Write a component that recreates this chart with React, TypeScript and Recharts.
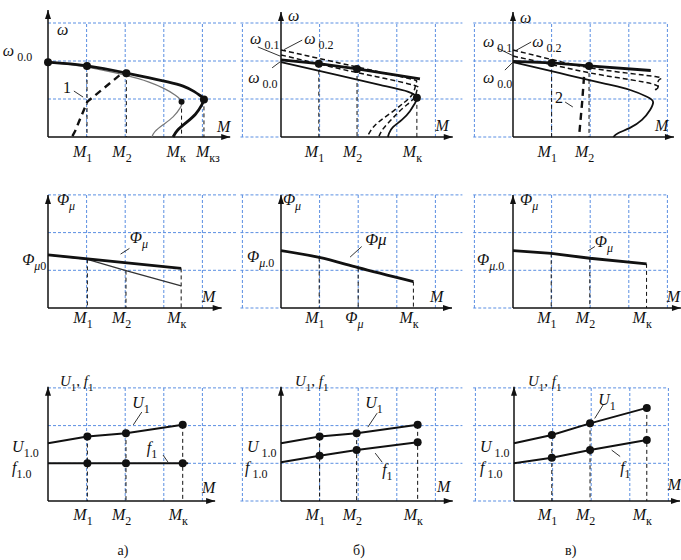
import React from "react";
import { LineChart, Line, XAxis, YAxis, ReferenceLine, ReferenceDot } from "recharts";

type P = number[];
type Part = [string, string];

const W = 681;
const H = 560;
const UX = 38.6;
const FONT = "\"Liberation Serif\", \"Times New Roman\", serif";
const GRID = "#5b8fe2";
const INK = "#111";

// ---- row 1: ω(M)
const a1Op: P[] = [[0, 1.97], [1.01, 1.87], [2.03, 1.68], [2.6, 1.56], [3.1, 1.45], [3.5, 1.34], [3.78, 1.2], [3.97, 1.07], [4.04, 0.99], [3.98, 0.84], [3.82, 0.6], [3.57, 0.37], [3.35, 0.17], [3.24, 0]];
const a1Nat: P[] = [[0, 1.97], [1.01, 1.84], [2.03, 1.62], [2.6, 1.45], [3.0, 1.28], [3.3, 1.1], [3.46, 0.93], [3.42, 0.76], [3.24, 0.53], [2.98, 0.32], [2.77, 0.14], [2.69, 0]];
const a1Line1: P[] = [[1.85, 1.62], [1.02, 0.93], [0.85, 0.52], [0.7, 0.15], [0.62, 0]];
const a1Dots: P[] = [[0, 1.97], [1.01, 1.87], [2.03, 1.68], [4.04, 0.99]];
const a1Kdot: P[] = [[3.46, 0.93]];

const a2Op: P[] = [[0, 2.03], [0.98, 1.93], [1.97, 1.79], [3.6, 1.53]];
const a2W02: P[] = [[0, 2.29], [1.5, 1.95], [2.6, 1.7], [3.4, 1.52], [3.5, 1.42], [3.42, 1.15], [3.18, 0.9], [2.84, 0.63], [2.5, 0.37], [2.32, 0.16], [2.23, 0]];
const a2W01: P[] = [[0, 2.16], [1.5, 1.8], [2.6, 1.56], [3.45, 1.36], [3.53, 1.25], [3.45, 1.03], [3.18, 0.78], [2.9, 0.5], [2.65, 0.22], [2.53, 0]];
const a2Nat: P[] = [[0, 1.97], [1.5, 1.62], [2.56, 1.37], [3.3, 1.19], [3.52, 1.03], [3.47, 0.89], [3.34, 0.68], [3.13, 0.45], [2.9, 0.26], [2.8, 0.1], [2.77, 0]];
const a2Dots: P[] = [[0.98, 1.93], [1.97, 1.79], [3.52, 1.03]];

const a3Op: P[] = [[0, 1.99], [1, 1.95], [1.97, 1.87], [3.57, 1.75]];
const a3W02: P[] = [[0, 2.29], [1.2, 1.99], [2.3, 1.77], [3.68, 1.59], [3.78, 1.5], [3.76, 1.32], [3.68, 1.24]];
const a3W01: P[] = [[0, 2.13], [1.2, 1.86], [2.3, 1.63], [3.6, 1.4], [3.68, 1.24]];
const a3Nat: P[] = [[0, 1.97], [1.22, 1.68], [2.4, 1.4], [3.0, 1.25], [3.47, 1.06], [3.63, 0.92], [3.55, 0.71], [3.34, 0.45], [3.03, 0.24], [2.72, 0.1], [2.6, 0]];
const a3Line2: P[] = [[1.84, 1.58], [1.79, 0.9], [1.71, 0]];
const a3Dots: P[] = [[1, 1.95], [1.97, 1.87]];

// ---- row 2: Φμ(M)
const b1Thick: P[] = [[0, 1.41], [3.45, 1.05]];
const b1Thin: P[] = [[0, 1.41], [1.02, 1.29], [2.02, 0.99], [3.45, 0.59]];
const b1Drops: P[] = [[1.02, 1.29], [2.02, 0.99], [3.45, 1.05]];
const b2Curve: P[] = [[0, 1.52], [0.99, 1.34], [2.0, 1.07], [3.43, 0.7]];
const b3Curve: P[] = [[0, 1.52], [0.99, 1.45], [1.99, 1.32], [3.46, 1.17]];

// ---- row 3: U1, f1 (M)
const c1U: P[] = [[0, 1.53], [1.02, 1.71], [2.02, 1.8], [3.49, 2.02]];
const c1F: P[] = [[0, 1.0], [1.02, 1.0], [2.02, 1.0], [3.63, 1.0]];
const c1Fdots: P[] = [[1.02, 1.0], [2.02, 1.0], [3.49, 1.0]];
const c2U: P[] = [[0, 1.53], [1.0, 1.71], [1.96, 1.8], [3.54, 2.02]];
const c2F: P[] = [[0, 1.03], [1.0, 1.2], [1.96, 1.35], [3.54, 1.56]];
const c3U: P[] = [[0, 1.53], [0.98, 1.75], [1.97, 2.06], [3.44, 2.47]];
const c3F: P[] = [[0, 1.0], [0.98, 1.15], [1.97, 1.35], [3.44, 1.62]];

const m = (s: string): Part[] => [["M", "i"], [s, "s"]];
const om = (s: string): Part[] => [["ω", "i"], [" " + s, "s"]];
const phi = (s: string): Part[] => [["Φ", "i"], ["μ", "si"], [s, "s"]];
const uf: Part[] = [["U", "i"], ["1", "s"], [", ", "r"], ["f", "i"], ["1", "s"]];

type Curve = { pts: P[]; w: number; color?: string; dash?: string; kind?: string };
type Note = { at: P; parts: Part[]; size?: number; anchor?: string };
type Tick = { x: number; parts: Part[]; dx?: number };
type Panel = {
  ax: number; y0: number; uy: number; xMax: number;
  gridX: number[]; gridL: number; gridR: number;
  top: number; right: number;
  curves: Curve[]; dots: P[]; small?: P[]; drops: P[]; leaders: number[][];
  notes: Note[]; ticks: Tick[]; tickDy: number;
};

const col1Grid = [1, 2, 3, 4];
const colGrid = [-1, 1, 2, 3, 4];

const panels: Panel[] = [
  {
    ax: 48, y0: 137, uy: 38, xMax: 4.9, gridX: col1Grid, gridL: 0, gridR: 4.9, top: 3.34, right: 4.72,
    curves: [
      { pts: a1Nat, w: 1.2, color: "#777" },
      { pts: a1Op, w: 2.8 },
      { pts: a1Line1, w: 2.4, dash: "7 5", kind: "linear" },
    ],
    dots: a1Dots, small: a1Kdot,
    drops: [a1Dots[1], a1Dots[2], a1Kdot[0], a1Dots[3]],
    leaders: [[0.67, 1.21, 0.91, 1.05]],
    notes: [
      { at: [0.23, 2.68], parts: [["ω", "i"]] },
      { at: [-1.17, 2.12], parts: om("0.0") },
      { at: [0.39, 1.16], parts: [["1", "r"]] },
      { at: [4.38, 0.13], parts: [["M", "i"]] },
    ],
    ticks: [
      { x: a1Dots[1][0], parts: m("1") },
      { x: a1Dots[2][0], parts: m("2") },
      { x: a1Kdot[0][0], parts: m("к"), dx: -15 },
      { x: a1Dots[3][0], parts: m("кз"), dx: -8 },
    ],
    tickDy: 20,
  },
  {
    ax: 281, y0: 137, uy: 38, xMax: 4.9, gridX: colGrid, gridL: -1.05, gridR: 4.7, top: 3.29, right: 4.45,
    curves: [
      { pts: a2W02, w: 1.5, dash: "5 3" },
      { pts: a2W01, w: 1.5, dash: "5 3" },
      { pts: a2Nat, w: 1.8 },
      { pts: a2Op, w: 2.8, kind: "linear" },
    ],
    dots: a2Dots, drops: a2Dots,
    leaders: [[-0.6, 2.37, 0, 2.12], [0.55, 2.55, 0.08, 2.3], [-0.23, 1.82, -0.02, 1.98]],
    notes: [
      { at: [0.18, 3.05], parts: [["ω", "i"]] },
      { at: [-0.8, 2.45], parts: om("0.1") },
      { at: [0.6, 2.45], parts: om("0.2") },
      { at: [-0.85, 1.42], parts: om("0.0") },
      { at: [4.0, 0.16], parts: [["M", "i"]] },
    ],
    ticks: [
      { x: a2Dots[0][0], parts: m("1") },
      { x: a2Dots[1][0], parts: m("2") },
      { x: a2Dots[2][0], parts: m("к") },
    ],
    tickDy: 20,
  },
  {
    ax: 513, y0: 137, uy: 38, xMax: 4.3, gridX: colGrid, gridL: -1.03, gridR: 4.0, top: 3.29, right: 4.17,
    curves: [
      { pts: a3W02, w: 1.5, dash: "5 3" },
      { pts: a3W01, w: 1.5, dash: "5 3" },
      { pts: a3Nat, w: 1.8 },
      { pts: a3Op, w: 2.8, kind: "linear" },
      { pts: a3Line2, w: 2.4, dash: "7 5", kind: "linear" },
    ],
    dots: a3Dots, drops: a3Dots,
    leaders: [[-0.41, 2.34, 0, 2.14], [0.47, 2.5, 0.08, 2.28], [-0.21, 1.76, 0, 1.97], [1.35, 0.92, 1.55, 0.79]],
    notes: [
      { at: [0.18, 3.0], parts: [["ω", "i"]] },
      { at: [-0.78, 2.37], parts: om("0.1") },
      { at: [0.5, 2.37], parts: om("0.2") },
      { at: [-0.78, 1.42], parts: om("0.0") },
      { at: [1.09, 0.89], parts: [["2", "r"]] },
      { at: [3.68, 0.16], parts: [["M", "i"]] },
    ],
    ticks: [
      { x: a3Dots[0][0], parts: m("1") },
      { x: a3Dots[1][0], parts: m("2") },
    ],
    tickDy: 20,
  },
  {
    ax: 48, y0: 308, uy: 37.7, xMax: 4.9, gridX: col1Grid, gridL: 0, gridR: 4.9, top: 3.0, right: 4.5,
    curves: [
      { pts: b1Thin, w: 1.3, color: "#333", kind: "linear" },
      { pts: b1Thick, w: 2.8, kind: "linear" },
    ],
    dots: [], drops: b1Drops,
    leaders: [[1.88, 1.43, 2.11, 1.58]],
    notes: [
      { at: [0.23, 2.73], parts: [["Φ", "i"], ["μ", "si"]] },
      { at: [-0.67, 1.14], parts: phi("0") },
      { at: [2.12, 1.72], parts: [["Φ", "i"], ["μ", "si"]] },
      { at: [3.99, 0.16], parts: [["M", "i"]] },
    ],
    ticks: [
      { x: b1Drops[0][0], parts: m("1") },
      { x: b1Drops[1][0], parts: m("2") },
      { x: b1Drops[2][0], parts: m("к") },
    ],
    tickDy: 15,
  },
  {
    ax: 281, y0: 308, uy: 37.7, xMax: 4.9, gridX: colGrid, gridL: -1.05, gridR: 4.7, top: 3.0, right: 4.43,
    curves: [{ pts: b2Curve, w: 2.8 }],
    dots: [], drops: b2Curve.slice(1),
    leaders: [[1.79, 1.35, 2.09, 1.63]],
    notes: [
      { at: [0.05, 2.73], parts: [["Φ", "i"], ["μ", "si"]] },
      { at: [-0.88, 1.22], parts: phi(".0") },
      { at: [2.18, 1.67], parts: [["Φμ", "i"]], size: 17 },
      { at: [3.86, 0.16], parts: [["M", "i"]] },
    ],
    ticks: [
      { x: b2Curve[1][0], parts: m("1") },
      { x: b2Curve[2][0], parts: [["Φ", "i"], ["μ", "si"]], dx: -13 },
      { x: b2Curve[3][0], parts: m("к") },
    ],
    tickDy: 15,
  },
  {
    ax: 513, y0: 308, uy: 37.7, xMax: 4.3, gridX: colGrid, gridL: -1.03, gridR: 4.0, top: 3.0, right: 4.35,
    curves: [{ pts: b3Curve, w: 2.8, kind: "linear" }],
    dots: [], drops: b3Curve.slice(1),
    leaders: [[1.95, 1.52, 2.12, 1.63]],
    notes: [
      { at: [0.18, 2.73], parts: [["Φ", "i"], ["μ", "si"]] },
      { at: [-0.93, 1.14], parts: phi(".0") },
      { at: [2.12, 1.62], parts: [["Φ", "i"], ["μ", "si"]] },
      { at: [3.98, 0.16], parts: [["M", "i"]] },
    ],
    ticks: [
      { x: b3Curve[1][0], parts: m("1") },
      { x: b3Curve[2][0], parts: m("2") },
      { x: b3Curve[3][0], parts: m("к") },
    ],
    tickDy: 15,
  },
  {
    ax: 48, y0: 501, uy: 37.7, xMax: 4.9, gridX: col1Grid, gridL: 0, gridR: 4.9, top: 3.03, right: 4.33,
    curves: [
      { pts: c1U, w: 2, kind: "linear" },
      { pts: c1F, w: 2, kind: "linear" },
    ],
    dots: [...c1U.slice(1), ...c1Fdots], drops: c1U.slice(1),
    leaders: [[2.21, 2.02, 2.43, 2.36], [2.98, 1.22, 3.11, 1.03]],
    notes: [
      { at: [0.31, 3.05], parts: uf, size: 15 },
      { at: [-0.93, 1.31], parts: [["U", "i"], ["1.0", "s"]] },
      { at: [-0.93, 0.74], parts: [["f", "i"], ["1.0", "s"]] },
      { at: [2.18, 2.47], parts: [["U", "i"], ["1", "s"]] },
      { at: [2.56, 1.27], parts: [["f", "i"], ["1", "s"]] },
      { at: [3.99, 0.21], parts: [["M", "i"]] },
      { at: [1.94, -1.43], parts: [["а)", "r"]], size: 14, anchor: "middle" },
    ],
    ticks: c1U.slice(1).map((p, i) => ({ x: p[0], parts: m(["1", "2", "к"][i]) })),
    tickDy: 19,
  },
  {
    ax: 281, y0: 501, uy: 37.7, xMax: 4.9, gridX: colGrid, gridL: -1.05, gridR: 4.7, top: 3.03, right: 4.45,
    curves: [
      { pts: c2U, w: 2, kind: "linear" },
      { pts: c2F, w: 2, kind: "linear" },
    ],
    dots: [...c2U.slice(1), ...c2F.slice(1)], drops: c2U.slice(1),
    leaders: [[2.25, 1.96, 2.49, 2.33], [2.44, 1.27, 2.62, 1.03]],
    notes: [
      { at: [0.36, 3.05], parts: uf, size: 15 },
      { at: [-0.88, 1.3], parts: [["U", "i"], [" 1.0", "s"]] },
      { at: [-0.93, 0.74], parts: [["f", "i"], [" 1.0", "s"]] },
      { at: [2.18, 2.47], parts: [["U", "i"], ["1", "s"]] },
      { at: [2.62, 0.69], parts: [["f", "i"], ["1", "s"]] },
      { at: [4.04, 0.24], parts: [["M", "i"]] },
      { at: [2.02, -1.43], parts: [["б)", "r"]], size: 14, anchor: "middle" },
    ],
    ticks: c2U.slice(1).map((p, i) => ({ x: p[0], parts: m(["1", "2", "к"][i]) })),
    tickDy: 19,
  },
  {
    ax: 514, y0: 501, uy: 37.7, xMax: 4.3, gridX: colGrid, gridL: -1.06, gridR: 3.97, top: 3.03, right: 4.3,
    curves: [
      { pts: c3U, w: 2, kind: "linear" },
      { pts: c3F, w: 2, kind: "linear" },
    ],
    dots: [...c3U.slice(1), ...c3F.slice(1)], drops: c3U.slice(1),
    leaders: [[2.09, 2.19, 2.31, 2.55], [2.53, 1.35, 2.75, 1.18]],
    notes: [
      { at: [0.36, 3.05], parts: uf, size: 15 },
      { at: [-0.88, 1.3], parts: [["U", "i"], [" 1.0", "s"]] },
      { at: [-0.88, 0.74], parts: [["f", "i"], [" 1.0", "s"]] },
      { at: [2.18, 2.55], parts: [["U", "i"], ["1", "s"]] },
      { at: [2.75, 0.74], parts: [["f", "i"], ["1", "s"]] },
      { at: [3.98, 0.3], parts: [["M", "i"]] },
      { at: [1.47, -1.43], parts: [["в)", "r"]], size: 14, anchor: "middle" },
    ],
    ticks: c3U.slice(1).map((p, i) => ({ x: p[0], parts: m(["1", "2", "к"][i]) })),
    tickDy: 19,
  },
];

function Txt({ cx, cy, parts, size = 16, anchor = "start", dx = 0, dy = 0 }: any) {
  let down = false;
  const sd = Math.round(size * 0.3);
  return (
    <text x={cx + dx} y={cy + dy} fontSize={size} textAnchor={anchor} fill={INK}
      style={{ whiteSpace: "pre", fontFamily: FONT }}>
      {parts.map(([s, k]: Part, i: number) => {
        const sub = k === "s" || k === "si";
        let shift = 0;
        if (sub && !down) { shift = sd; down = true; }
        else if (!sub && down) { shift = -sd; down = false; }
        return (
          <tspan key={i} dy={shift} fontSize={sub ? Math.round(size * 0.72) : size}
            style={{ fontFamily: FONT, fontStyle: k === "i" || k === "si" ? "italic" : "normal" }}>{s}</tspan>
        );
      })}
    </text>
  );
}

const seg = (x1: number, y1: number, x2: number, y2: number) => [{ x: x1, y: y1 }, { x: x2, y: y2 }];

function PanelChart({ p }: { p: Panel }) {
  const xMin = -1.2, yMin = -0.25, yMax = 3.4;
  const margin = {
    left: p.ax + xMin * UX,
    right: W - (p.ax + p.xMax * UX),
    top: p.y0 - yMax * p.uy,
    bottom: H - (p.y0 - yMin * p.uy),
  };
  return (
    <div style={{ position: "absolute", left: 0, top: 0 }}>
      <LineChart width={W} height={H} margin={margin}>
        <XAxis type="number" dataKey="x" domain={[xMin, p.xMax]} allowDataOverflow hide />
        <YAxis type="number" domain={[yMin, yMax]} allowDataOverflow hide />
        {p.gridX.map((x) => (
          <ReferenceLine key={"gx" + x} segment={seg(x, 0, x, 3)} stroke={GRID} strokeDasharray="3 2" ifOverflow="visible" />
        ))}
        {[1, 2, 3].map((y) => (
          <ReferenceLine key={"gy" + y} segment={seg(p.gridL, y, p.gridR, y)} stroke={GRID} strokeDasharray="3 2" ifOverflow="visible" />
        ))}
        {p.gridL < 0 && (
          <ReferenceLine segment={seg(p.gridL, 0, 0, 0)} stroke={GRID} strokeDasharray="3 2" ifOverflow="visible" />
        )}
        <ReferenceLine segment={seg(0, 0, 0, p.top)} stroke={INK} strokeWidth={1.5} ifOverflow="visible" />
        <ReferenceLine segment={seg(0, 0, p.right, 0)} stroke={INK} strokeWidth={1.5} ifOverflow="visible" />
        <ReferenceDot x={0} y={p.top} ifOverflow="visible"
          shape={(s: any) => <polygon points={`${s.cx},${s.cy} ${s.cx - 3},${s.cy + 9} ${s.cx + 3},${s.cy + 9}`} fill={INK} />} />
        <ReferenceDot x={p.right} y={0} ifOverflow="visible"
          shape={(s: any) => <polygon points={`${s.cx},${s.cy} ${s.cx - 9},${s.cy - 3} ${s.cx - 9},${s.cy + 3}`} fill={INK} />} />
        {p.drops.map((d, i) => (
          <ReferenceLine key={"d" + i} segment={seg(d[0], d[1], d[0], 0)} stroke={INK} strokeWidth={1} strokeDasharray="4 3" ifOverflow="visible" />
        ))}
        {p.leaders.map((l, i) => (
          <ReferenceLine key={"l" + i} segment={seg(l[0], l[1], l[2], l[3])} stroke="#333" strokeWidth={1} ifOverflow="visible" />
        ))}
        {p.curves.map((c, i) => (
          <Line key={"c" + i} data={c.pts.map(([x, y]) => ({ x, y }))} dataKey="y" type={(c.kind || "natural") as any}
            stroke={c.color || INK} strokeWidth={c.w} strokeDasharray={c.dash} dot={false} activeDot={false}
            isAnimationActive={false} />
        ))}
        {p.dots.map((d, i) => (
          <ReferenceDot key={"p" + i} x={d[0]} y={d[1]} r={4} fill={INK} stroke="none" ifOverflow="visible" />
        ))}
        {(p.small || []).map((d, i) => (
          <ReferenceDot key={"s" + i} x={d[0]} y={d[1]} r={3} fill={INK} stroke="none" ifOverflow="visible" />
        ))}
        {p.ticks.map((t, i) => (
          <ReferenceDot key={"t" + i} x={t.x} y={0} ifOverflow="visible"
            shape={(s: any) => <Txt cx={s.cx} cy={s.cy} parts={t.parts} dx={t.dx ?? -14} dy={p.tickDy} />} />
        ))}
        {p.notes.map((n, i) => (
          <ReferenceDot key={"n" + i} x={n.at[0]} y={n.at[1]} ifOverflow="visible"
            shape={(s: any) => <Txt cx={s.cx} cy={s.cy} parts={n.parts} size={n.size} anchor={n.anchor} />} />
        ))}
      </LineChart>
    </div>
  );
}

export default function App() {
  return (
    <div style={{ position: "absolute", left: 0, top: 0, width: W, height: H, background: "#fff", overflow: "hidden" }}>
      {panels.map((p, i) => (
        <PanelChart key={i} p={p} />
      ))}
    </div>
  );
}
